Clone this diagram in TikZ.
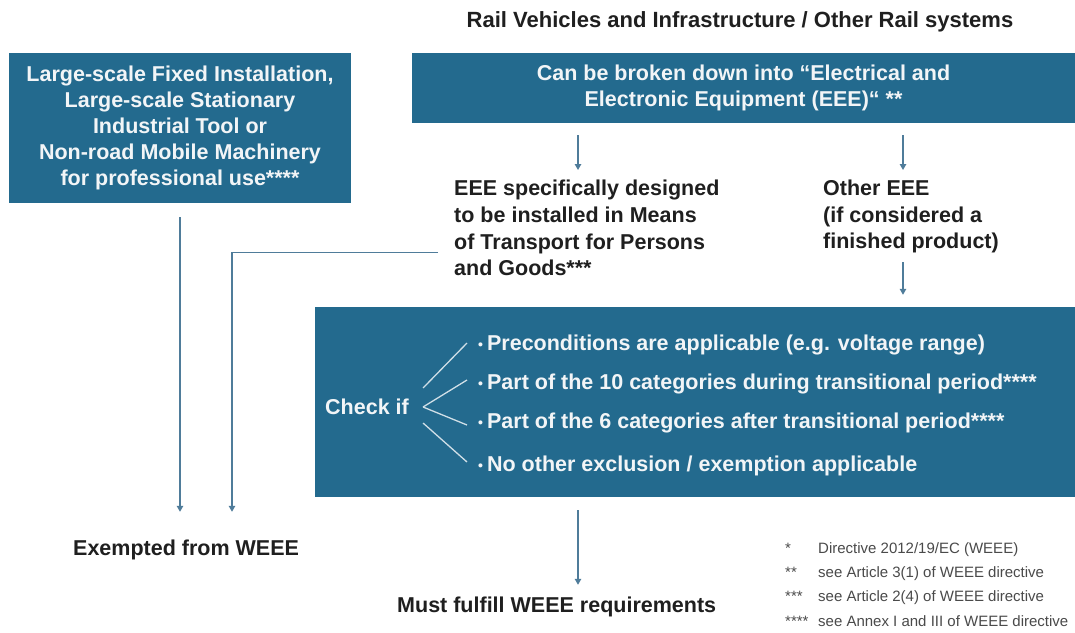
\documentclass[tikz,border=0pt]{standalone}
\usepackage{fontspec}
\setmainfont{Liberation Sans}
\usetikzlibrary{arrows.meta,calc}
\definecolor{boxblue}{HTML}{236A8E}
\definecolor{arrowblue}{HTML}{4F7C9A}
\definecolor{txt}{HTML}{1F1F1F}
\definecolor{boxtxt}{HTML}{F2F5F7}
\definecolor{fntxt}{HTML}{4A4A4A}
\definecolor{chkline}{HTML}{D0DFE7}
\begin{document}
\begin{tikzpicture}[x=1pt,y=-1pt,
  mainfont/.style={font=\fontsize{21.5}{26}\selectfont\bfseries},
  box/.style={fill=boxblue, draw=none, text=boxtxt, inner sep=0pt, mainfont, align=center},
  plain/.style={text=txt, inner sep=0pt, align=left},
  arr/.style={draw=arrowblue, line width=1.2pt, -{Triangle[length=6pt,width=6.5pt]}},
  chkln/.style={draw=chkline, line width=1.3pt},
  bul/.style={text=boxtxt, inner sep=0pt, mainfont, anchor=base west},
  fn/.style={text=fntxt, inner sep=0pt, font=\fontsize{15}{18}\selectfont, anchor=west},
  dot/.style={}
]
\useasboundingbox[fill=white] (0,0) rectangle (1075,632);

% title
\node[text=txt, inner sep=0pt, font=\fontsize{22}{26}\selectfont\bfseries] (title) at (740,22)
  {Rail Vehicles and Infrastructure / Other Rail systems};

% boxes
\node[box, minimum width=342pt, minimum height=150pt] (lbox) at (180,128)
  {Large-scale Fixed Installation,\\Large-scale Stationary\\Industrial Tool or\\Non-road Mobile Machinery\\for professional use****};
\node[box, minimum width=663pt, minimum height=70pt] (tbox) at (743.5,88)
  {Can be broken down into “Electrical and\\Electronic Equipment (EEE)“ **};
\node[fill=boxblue, inner sep=0pt, minimum width=760pt, minimum height=190pt] (cbox) at (695,402) {};

% middle texts
\node[plain, anchor=north west, font=\fontsize{21.5}{26.7}\selectfont\bfseries] (eee) at (454,180)
  {EEE specifically designed\\to be installed in Means\\of Transport for Persons\\and Goods***};
\node[plain, anchor=north west, font=\fontsize{21.5}{26.5}\selectfont\bfseries] (oth) at (823,180)
  {Other EEE\\(if considered a\\finished product)};

% check box content
\node[text=boxtxt, inner sep=0pt, mainfont, anchor=west] (chk) at (325,407) {Check if};
\newcommand{\bdot}{{\fontsize{14}{14}\selectfont\raisebox{1.5pt}{•}}\hspace{4pt}}
\node[bul] (b1) at (478,350.5) {\bdot Preconditions are applicable (e.g. voltage range)};
\node[bul] (b2) at (478,389.5) {\bdot Part of the 10 categories during transitional period****};
\node[bul] (b3) at (478,428.5) {\bdot Part of the 6 categories after transitional period****};
\node[bul] (b4) at (478,471.5) {\bdot No other exclusion / exemption applicable};

\draw[chkln] ($(chk.east)+(14,-19)$) -- ($(b1.base west)+(-11,-7.5)$);
\draw[chkln] ($(chk.east)+(14,0)$) -- ($(b2.base west)+(-11,-9.5)$);
\draw[chkln] ($(chk.east)+(14,0)$) -- ($(b3.base west)+(-11,-3.5)$);
\draw[chkln] ($(chk.east)+(14,16)$) -- ($(b4.base west)+(-11,-9.5)$);

% bottom texts
\node[plain, anchor=west, mainfont] (exempt) at (73,550) {Exempted from WEEE};
\node[plain, anchor=west, mainfont] (must) at (397,607) {Must fulfill WEEE requirements};

% footnotes
\node[fn] (fn1) at (785,550) {\makebox[33pt][l]{*}Directive 2012/19/EC (WEEE)};
\node[fn] (fn2) at (785,574) {\makebox[33pt][l]{**}see Article 3(1) of WEEE directive};
\node[fn] (fn3) at (785,598) {\makebox[33pt][l]{***}see Article 2(4) of WEEE directive};
\node[fn] (fn4) at (785,621) {\makebox[33pt][l]{****}see Annex I and III of WEEE directive};

% connectors
\coordinate (xa) at (578,0);
\coordinate (xb) at (903,0);
\coordinate (xl) at (232,0);
\draw[arr, shorten <=12pt, shorten >=10pt] (tbox.south -| xa) -- (eee.north -| xa);
\draw[arr, shorten <=12pt, shorten >=10pt] (tbox.south -| xb) -- (oth.north -| xb);
\draw[arr, shorten <=9pt, shorten >=12pt] (oth.south -| xb) -- (cbox.north -| xb);
\draw[arr, shorten <=13pt, shorten >=12pt] (cbox.south -| xa) -- (must.north -| xa);
\draw[arr, shorten <=14pt, shorten >=28pt] (lbox.south) -- (exempt.north -| lbox.south);
\coordinate (lstart) at ($(eee.west)+(-16,24)$);
\draw[arr, shorten >=28pt] (lstart) -| (exempt.north -| xl);
\end{tikzpicture}
\end{document}
